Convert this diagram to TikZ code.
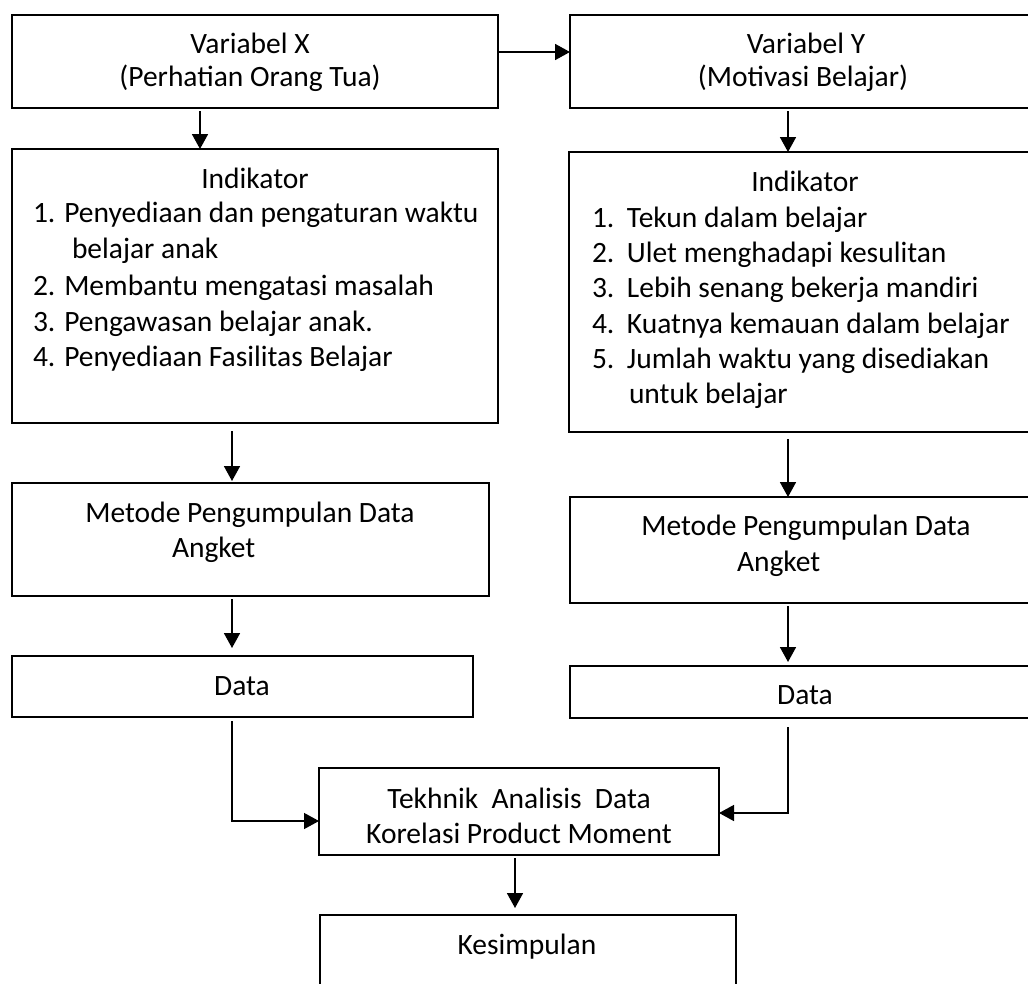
\documentclass[tikz,border=0pt]{standalone}
\usepackage{fontspec}
\setmainfont{Carlito}
\usetikzlibrary{arrows.meta}
\begin{document}
\begin{tikzpicture}[x=1pt,y=-1pt,
  box/.style={draw=black,line width=1.7pt,rectangle,inner sep=0pt,outer sep=0pt,anchor=north west},
  arr/.style={draw=black,line width=1.8pt,-{Triangle[length=15pt,width=16pt]}},
  thinarr/.style={arr,line width=1.4pt},
  lbl/.style={inner sep=0pt,outer sep=0pt,font=\fontsize{29.5pt}{35pt}\selectfont,text=black},
]
\useasboundingbox (0,0) rectangle (1028,983);
\clip (0,0) rectangle (1028,983);

% boxes
\node[box,minimum width=486pt,minimum height=93pt]  (vx) at (12,15) {};
\node[box,minimum width=472pt,minimum height=93pt]  (vy) at (570,15) {};
\node[box,minimum width=486pt,minimum height=274pt] (ix) at (12,149) {};
\node[box,minimum width=473pt,minimum height=280pt] (iy) at (569,152) {};
\node[box,minimum width=477pt,minimum height=113pt] (mx) at (12,483) {};
\node[box,minimum width=472pt,minimum height=106pt] (my) at (570,497) {};
\node[box,minimum width=461pt,minimum height=61pt]  (dx) at (12,656) {};
\node[box,minimum width=472pt,minimum height=52pt]  (dy) at (570,666) {};
\node[box,minimum width=400pt,minimum height=87pt]  (tk) at (319,768) {};
\node[box,minimum width=416pt,minimum height=100pt] (ks) at (320,915) {};

% connectors
\draw[arr] (vx.east |- 0,52) -- (vy.west |- 0,52);
\draw[arr,shorten <=3pt] (vx.south -| 200,0) -- (ix.north -| 200,0);
\draw[arr,shorten <=3pt] (vy.south -| 788,0) -- (iy.north -| 788,0);
\draw[arr,shorten <=8pt,shorten >=2pt] (ix.south -| 232,0) -- (mx.north -| 232,0);
\draw[arr,shorten <=7pt] (iy.south -| 788,0) -- (my.north -| 788,0);
\draw[arr,shorten <=3pt,shorten >=8pt] (mx.south -| 232,0) -- (dx.north -| 232,0);
\draw[arr,shorten <=3pt,shorten >=4pt] (my.south -| 788,0) -- (dy.north -| 788,0);
\draw[thinarr,shorten <=4pt] (dx.south -| 232,0) |- (tk.west |- 0,821);
\draw[thinarr,shorten <=9pt] (dy.south -| 788,0) |- (tk.east |- 0,813);
\draw[arr,shorten <=3pt,shorten >=7pt] (tk.south -| 515,0) -- (ks.north -| 515,0);

% texts
\node[lbl,anchor=base] (tvx1) at (250,53) {Variabel X};
\node[lbl,anchor=base] (tvx2) at (250,86) {(Perhatian Orang Tua)};
\node[lbl,anchor=base] (tvy1) at (806,53) {Variabel Y};
\node[lbl,anchor=base] (tvy2) at (803,86) {(Motivasi Belajar)};

\node[lbl,anchor=base] (tix0) at (255,188) {Indikator};
\node[lbl,anchor=base west] (tix1) at (33,222) {1. Penyediaan dan pengaturan waktu};
\node[lbl,anchor=base west] (tix1b) at (72,258) {belajar anak};
\node[lbl,anchor=base west] (tix2) at (33,295) {2. Membantu mengatasi masalah};
\node[lbl,anchor=base west] (tix3) at (33,331) {3. Pengawasan belajar anak.};
\node[lbl,anchor=base west] (tix4) at (33,366) {4. Penyediaan Fasilitas Belajar};

\node[lbl,anchor=base] (tiy0) at (805,191) {Indikator};
\node[lbl,anchor=base west] (tiy1) at (592,227) {\makebox[35pt][l]{1.}Tekun dalam belajar};
\node[lbl,anchor=base west] (tiy2) at (592,262) {\makebox[35pt][l]{2.}Ulet menghadapi kesulitan};
\node[lbl,anchor=base west] (tiy3) at (592,297) {\makebox[35pt][l]{3.}Lebih senang bekerja mandiri};
\node[lbl,anchor=base west] (tiy4) at (592,333) {\makebox[35pt][l]{4.}Kuatnya kemauan dalam belajar};
\node[lbl,anchor=base west] (tiy5) at (592,368) {\makebox[35pt][l]{5.}Jumlah waktu yang disediakan};
\node[lbl,anchor=base west] (tiy5b) at (629,403) {untuk belajar};

\node[lbl,anchor=base] (tmx1) at (250,522) {Metode Pengumpulan Data};
\node[lbl,anchor=base west] (tmx2) at (172,557) {Angket};
\node[lbl,anchor=base] (tmy1) at (806,535) {Metode Pengumpulan Data};
\node[lbl,anchor=base west] (tmy2) at (737,571) {Angket};

\node[lbl,anchor=base] (tdx) at (242,695) {Data};
\node[lbl,anchor=base] (tdy) at (805,704) {Data};

\node[lbl,anchor=base] (ttk1) at (519,808) {Tekhnik\ \ Analisis\ \ Data};
\node[lbl,anchor=base] (ttk2) at (519,843) {Korelasi Product Moment};
\node[lbl,anchor=base] (tks) at (527,954) {Kesimpulan};
\end{tikzpicture}
\end{document}
